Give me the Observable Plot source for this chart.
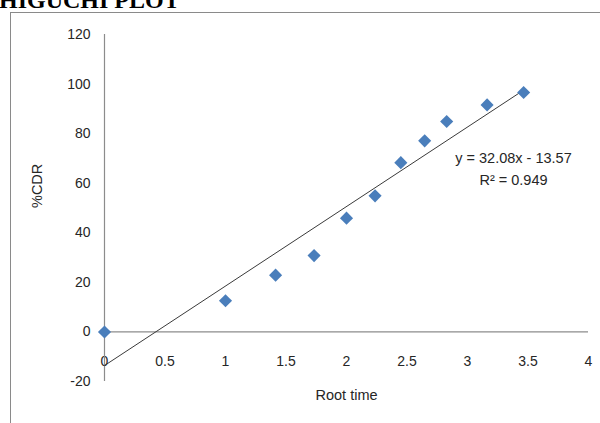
<!DOCTYPE html>
<html>
<head>
<meta charset="utf-8">
<script src="https://cdn.jsdelivr.net/npm/d3@7"></script>
<script src="https://cdn.jsdelivr.net/npm/@observablehq/plot@0.6"></script>
<style>
  html, body { margin: 0; padding: 0; background: #fff; }
  #wrap { position: relative; width: 600px; height: 423px; overflow: hidden; background: #fff; }
  #title { position: absolute; left: -1px; top: -12px; font: bold 24px/24px "Liberation Serif", serif; color: #000; white-space: nowrap; }
  #frame { position: absolute; left: 10px; top: 12px; width: 700px; height: 600px; border: 1.5px solid #8a8a8a; box-sizing: border-box; }
  #chart { position: absolute; left: 0; top: 0; }
</style>
</head>
<body>
<div id="wrap">
  <div id="title">HIGUCHI PLOT</div>
  <div id="frame"></div>
  <div id="chart"></div>
</div>
<script>
// Square root of time vs cumulative % drug release
const rootTime = [0, 1, 1.414, 1.732, 2, 2.236, 2.449, 2.646, 2.828, 3.162, 3.464];
const cdr = [0, 12.6, 22.9, 30.8, 45.9, 54.9, 68.3, 77.1, 84.9, 91.6, 96.6];

// Linear trendline reported on the chart
const slope = 32.08;
const intercept = -13.57;
const r2 = 0.949;

const xTicks = [0, 0.5, 1, 1.5, 2, 2.5, 3, 3.5, 4];
const yTicks = [-20, 0, 20, 40, 60, 80, 100, 120];
const xTitle = "Root time";
const yTitle = "%CDR";

const points = rootTime.map((x, i) => ({x, y: cdr[i]}));
const xMax = d3.max(rootTime);
const trend = [0, xMax].map(x => ({x, y: slope * x + intercept}));
const equation = `y = ${slope}x - ${Math.abs(intercept)}\nR² = ${r2}`;

const chart = Plot.plot({
  width: 600,
  height: 423,
  marginLeft: 104,
  marginRight: 12,
  marginTop: 34,
  marginBottom: 42,
  style: {fontFamily: "Liberation Sans, Arial, sans-serif", fontSize: "14px", color: "#262626", background: "transparent", overflow: "visible"},
  x: {
    domain: [0, 4], ticks: xTicks, tickFormat: d => String(d),
    tickSize: 0, tickPadding: -25, label: null
  },
  y: {
    domain: [-20, 120], ticks: yTicks, tickFormat: d => String(d),
    tickSize: 0, tickPadding: 14, label: null
  },
  marks: [
    Plot.ruleY([0], {stroke: "#8c8c8c", strokeWidth: 1.2}),
    Plot.ruleX([0], {stroke: "#8c8c8c", strokeWidth: 1.2}),
    Plot.line(trend, {x: "x", y: "y", stroke: "#3a3a3a", strokeWidth: 1}),
    Plot.dot(points, {x: "x", y: "y", symbol: "diamond2", r: 5.9, fill: "#4a7ebb", stroke: "none"}),
    Plot.text([equation], {x: 3.38, y: 66.7, text: d => d, textAnchor: "middle", lineHeight: 1.52, fontSize: 14.5, fill: "#262626"}),
    // axis titles
    Plot.text([xTitle], {frameAnchor: "bottom", text: d => d, dy: 18, fontSize: 14.5, fill: "#262626"}),
    Plot.text([yTitle], {frameAnchor: "left", text: d => d, rotate: -90, dx: -67, dy: 0, fontSize: 14.5, fill: "#262626"})
  ]
});
document.getElementById("chart").appendChild(chart);
</script>
</body>
</html>
